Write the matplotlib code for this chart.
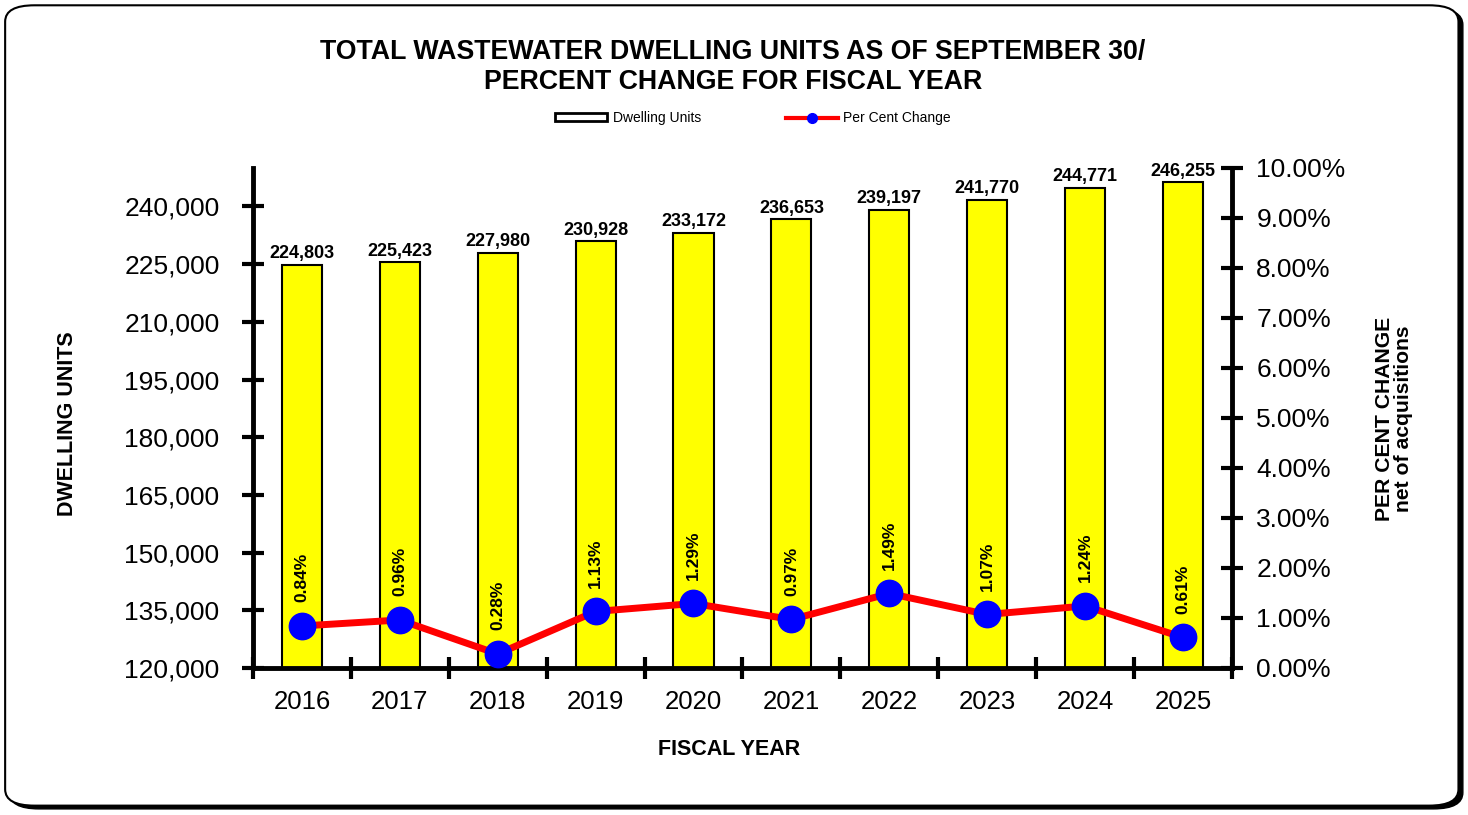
import matplotlib.pyplot as plt
from matplotlib.patches import FancyBboxPatch, Patch
from matplotlib.lines import Line2D
from matplotlib.ticker import FuncFormatter, FixedLocator

plt.rcParams['font.family'] = ['Liberation Sans', 'DejaVu Sans']

# Data
years = ['2016', '2017', '2018', '2019', '2020', '2021', '2022', '2023', '2024', '2025']
dwelling_units = [224803, 225423, 227980, 230928, 233172, 236653, 239197, 241770, 244771, 246255]
pct_change = [0.84, 0.96, 0.28, 1.13, 1.29, 0.97, 1.49, 1.07, 1.24, 0.61]

fig = plt.figure(figsize=(14.68, 8.15), dpi=100)

# Rounded frame with shadow
shadow = FancyBboxPatch((0.0065, 0.0075), 0.990, 0.982, boxstyle='round,pad=0,rounding_size=0.02',
                        transform=fig.transFigure, facecolor='black', edgecolor='black', zorder=-2)
frame = FancyBboxPatch((0.0035, 0.0115), 0.990, 0.982, boxstyle='round,pad=0,rounding_size=0.02',
                       transform=fig.transFigure, facecolor='white', edgecolor='black', lw=1.5, zorder=-1)
fig.patches.extend([shadow, frame])

ax = fig.add_axes([0.1723, 0.1804, 0.6669, 0.6135])
ax.patch.set_alpha(0)
x = list(range(len(years)))

bars = ax.bar(x, dwelling_units, width=0.41, color='#ffff00', edgecolor='black', linewidth=1.5, zorder=2)
for xi, v in zip(x, dwelling_units):
    ax.annotate(f'{v:,}', (xi, v), xytext=(0, 2), textcoords='offset points',
                ha='center', va='bottom', fontsize=13, fontweight='bold')

ax.set_ylim(120000, 250000)
ax.set_xlim(-0.5, len(years) - 0.5)
ax.yaxis.set_major_locator(FixedLocator(range(120000, 240001, 15000)))
ax.yaxis.set_major_formatter(FuncFormatter(lambda v, p: f'{int(v):,}'))
ax.set_xticks([i - 0.5 for i in range(len(years) + 1)])
ax.set_xticklabels([])
ax.set_xticks(x, minor=True)
ax.set_xticklabels(years, minor=True)
ax.tick_params(axis='x', which='minor', length=0, labelsize=18.5, pad=16)
ax.tick_params(axis='x', which='major', direction='inout', length=16, width=3)
ax.tick_params(axis='y', direction='inout', length=16, width=3, labelsize=19, pad=16)

for s in ['top', 'right']:
    ax.spines[s].set_visible(False)
for s in ['left', 'bottom']:
    ax.spines[s].set_linewidth(3.5)

ax.set_ylabel('DWELLING UNITS', fontsize=15.5, fontweight='bold', va='center')
ax.yaxis.set_label_coords(-0.189, 0.489)
ax.set_xlabel('FISCAL YEAR', fontsize=15.5, fontweight='bold', va='center')
ax.xaxis.set_label_coords(0.486, -0.164)

ax2 = ax.twinx()
ax2.set_ylim(0, 10)
ax2.set_yticks(range(0, 11))
ax2.yaxis.set_major_formatter(FuncFormatter(lambda v, p: f'{v:.2f}%'))
ax2.tick_params(axis='y', direction='inout', length=16, width=3, labelsize=19, pad=9.5)
for s in ['top', 'left', 'bottom']:
    ax2.spines[s].set_visible(False)
ax2.spines['right'].set_linewidth(3.5)
ax2.plot(x, pct_change, color='red', lw=5, marker='o', markersize=19,
         markerfacecolor='blue', markeredgecolor='blue', zorder=3)
for xi, p in zip(x, pct_change):
    ax2.annotate(f'{p:.2f}%', (xi, p), xytext=(0, 17), textcoords='offset points',
                 ha='center', va='bottom', rotation=90, fontsize=12.5, fontweight='bold')
ax2.set_ylabel('PER CENT CHANGE\nnet of acquisitions', fontsize=15.2, fontweight='bold',
               linespacing=1.05, va='center')
ax2.yaxis.set_label_coords(1.1655, 0.498)

fig.text(0.4993, 0.918, 'TOTAL WASTEWATER DWELLING UNITS AS OF SEPTEMBER 30/\nPERCENT CHANGE FOR FISCAL YEAR',
         ha='center', va='center', fontsize=19.3, fontweight='bold', linespacing=1.2)

handles = [Patch(facecolor='white', edgecolor='black', lw=2),
           Line2D([0], [0], color='red', lw=3, marker='o', markersize=7,
                  markerfacecolor='blue', markeredgecolor='blue')]
fig.legend(handles, ['Dwelling Units', 'Per Cent Change'], loc='center', bbox_to_anchor=(0.513, 0.855),
           ncol=2, frameon=False, fontsize=10, handlelength=3.75, handleheight=0.5,
           columnspacing=6.1, handletextpad=0.4)

fig.savefig('out.png', dpi=100)
